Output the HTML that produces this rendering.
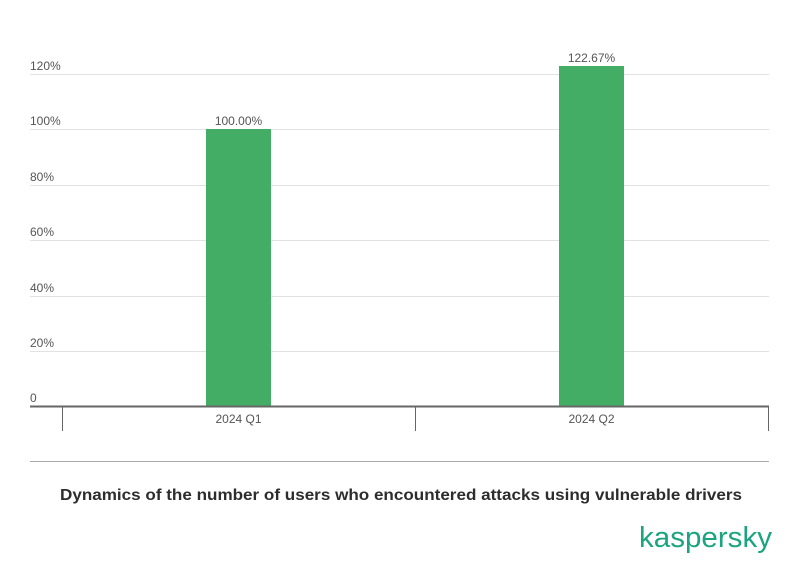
<!DOCTYPE html>
<html><head><meta charset="utf-8"><style>html,body{margin:0;padding:0;background:#fff}svg{display:block}</style></head>
<body>
<svg width="801" height="575" viewBox="0 0 801 575" xmlns="http://www.w3.org/2000/svg" font-family="Liberation Sans, sans-serif">
<g stroke="#e2e2e2" stroke-width="1">
<line x1="30" y1="74.5" x2="769" y2="74.5"/>
<line x1="30" y1="129.5" x2="769" y2="129.5"/>
<line x1="30" y1="185.5" x2="769" y2="185.5"/>
<line x1="30" y1="240.5" x2="769" y2="240.5"/>
<line x1="30" y1="296.5" x2="769" y2="296.5"/>
<line x1="30" y1="351.5" x2="769" y2="351.5"/>
</g>
<g fill="#555" font-size="12">
<text x="30" y="70">120%</text>
<text x="30" y="125">100%</text>
<text x="30" y="181">80%</text>
<text x="30" y="236">60%</text>
<text x="30" y="292">40%</text>
<text x="30" y="347">20%</text>
<text x="30" y="402">0</text>
</g>
<rect x="206" y="129" width="65" height="277" fill="#43ad65"/>
<rect x="559" y="66" width="65" height="340" fill="#43ad65"/>
<g fill="#555" font-size="12" text-anchor="middle">
<text x="238.5" y="125">100.00%</text>
<text x="591.5" y="62">122.67%</text>
<text x="238.5" y="423">2024 Q1</text>
<text x="591.5" y="423">2024 Q2</text>
</g>
<line x1="30" y1="406.5" x2="769" y2="406.5" stroke="#666" stroke-width="2"/>
<g stroke="#666" stroke-width="1">
<line x1="62.5" y1="407" x2="62.5" y2="431"/>
<line x1="415.5" y1="407" x2="415.5" y2="431"/>
<line x1="768.5" y1="407" x2="768.5" y2="431"/>
</g>
<line x1="30" y1="461.5" x2="769" y2="461.5" stroke="#aaa" stroke-width="1"/>
<text x="60" y="500" font-size="16" font-weight="bold" fill="#2d2d2d" textLength="682" lengthAdjust="spacingAndGlyphs">Dynamics of the number of users who encountered attacks using vulnerable drivers</text>
<text x="639" y="547" font-size="29" fill="#1aa47f" textLength="133" lengthAdjust="spacingAndGlyphs">kaspersky</text>
</svg>
</body></html>
